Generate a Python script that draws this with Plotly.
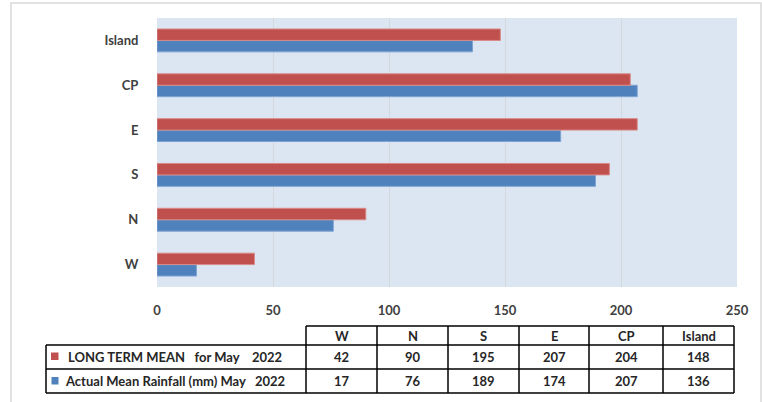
import plotly.graph_objects as go

categories = ["W", "N", "S", "E", "CP", "Island"]
long_term_mean = [42, 90, 195, 207, 204, 148]
actual_rainfall = [17, 76, 189, 174, 207, 136]
series_long = "LONG TERM MEAN\u00a0\u00a0 for May\u00a0\u00a0\u00a0 2022"
series_actual = "Actual Mean Rainfall (mm) May\u00a0\u00a0 2022"
x_ticks = [0, 50, 100, 150, 200, 250]

W, H = 762, 402
RED = "#C0504D"
BLUE = "#4F81BD"
FONT = "Lato"
TXT = "#404040"


def px(x):
    return x / W


def py(y):
    return 1 - y / H


fig = go.Figure()
fig.add_trace(go.Bar(
    y=categories, x=actual_rainfall, orientation="h", name=series_actual,
    marker=dict(color=BLUE, line=dict(color="#7FA3D3", width=1)),
))
fig.add_trace(go.Bar(
    y=categories, x=long_term_mean, orientation="h", name=series_long,
    marker=dict(color=RED, line=dict(color="#D98A88", width=1)),
))

shapes = []
# outer chart border
shapes.append(dict(type="rect", xref="paper", yref="paper",
                   x0=px(11), x1=px(761), y0=py(420), y1=py(3),
                   line=dict(color="#D9D9D9", width=1.5), layer="below"))

# table geometry
col_edges = [306, 377, 448, 519, 589, 663, 734]
left_edge = 46
row_edges = [326, 345, 369, 393]
LC = "#000000"
LW = 1.5
shapes.append(dict(type="line", xref="paper", yref="paper", x0=px(col_edges[0]), x1=px(col_edges[-1]),
                   y0=py(row_edges[0]), y1=py(row_edges[0]), line=dict(color=LC, width=LW)))
for r in row_edges[1:]:
    shapes.append(dict(type="line", xref="paper", yref="paper", x0=px(left_edge), x1=px(col_edges[-1]),
                       y0=py(r), y1=py(r), line=dict(color=LC, width=LW)))
shapes.append(dict(type="line", xref="paper", yref="paper", x0=px(left_edge), x1=px(left_edge),
                   y0=py(row_edges[1]), y1=py(row_edges[-1]), line=dict(color=LC, width=LW)))
for c in col_edges:
    shapes.append(dict(type="line", xref="paper", yref="paper", x0=px(c), x1=px(c),
                       y0=py(row_edges[0]), y1=py(row_edges[-1]), line=dict(color=LC, width=LW)))
# legend keys
shapes.append(dict(type="rect", xref="paper", yref="paper", x0=px(51), x1=px(58.5),
                   y0=py(360), y1=py(352.5), fillcolor=RED, line=dict(width=0)))
shapes.append(dict(type="rect", xref="paper", yref="paper", x0=px(51.5), x1=px(58.5),
                   y0=py(384.5), y1=py(377), fillcolor=BLUE, line=dict(width=0)))

annotations = []
row_centers = [(row_edges[i] + row_edges[i + 1]) / 2 for i in range(3)]
for i, cat in enumerate(categories):
    cx = (col_edges[i] + col_edges[i + 1]) / 2
    annotations.append(dict(x=px(cx), y=py(row_centers[0]), text=cat))
    annotations.append(dict(x=px(cx), y=py(row_centers[1]), text=str(long_term_mean[i])))
    annotations.append(dict(x=px(cx), y=py(row_centers[2]), text=str(actual_rainfall[i])))
annotations.append(dict(x=px(66), y=py(row_centers[1]), text=series_long, xanchor="left"))
annotations.append(dict(x=px(62.5), y=py(row_centers[2]), text=series_actual, xanchor="left"))
for a in annotations:
    a.update(xref="paper", yref="paper", showarrow=False,
             font=dict(family=FONT, size=13, color="#262626", weight="bold"))
    a.setdefault("xanchor", "center")
    a["yanchor"] = "middle"

fig.update_layout(
    width=W, height=H,
    margin=dict(l=0, r=0, t=0, b=0, pad=0),
    paper_bgcolor="white",
    plot_bgcolor="#DCE6F2",
    barmode="group",
    bargap=0.49,
    bargroupgap=0,
    showlegend=False,
    shapes=shapes,
    annotations=annotations,
    xaxis=dict(
        domain=[px(157), px(737)], range=[0, 250], tickvals=x_ticks,
        showgrid=True, gridcolor="#D4D8DD", gridwidth=1, zeroline=False,
        ticks="outside", ticklen=11, tickcolor="rgba(0,0,0,0)",
        tickfont=dict(family=FONT, size=13, color=TXT, weight="bold"),
        showline=False, fixedrange=True, automargin=False,
    ),
    yaxis=dict(
        domain=[py(287), py(18)], categoryorder="array", categoryarray=categories,
        showgrid=False, zeroline=False,
        ticks="outside", ticklen=15, tickcolor="rgba(0,0,0,0)",
        tickfont=dict(family=FONT, size=13, color=TXT, weight="bold"),
        showline=False, fixedrange=True, automargin=False,
    ),
)

fig.write_html(
    "out.html",
    config={"displayModeBar": False},
    post_script="document.body.style.margin='0px';document.body.style.overflow='hidden';",
)
